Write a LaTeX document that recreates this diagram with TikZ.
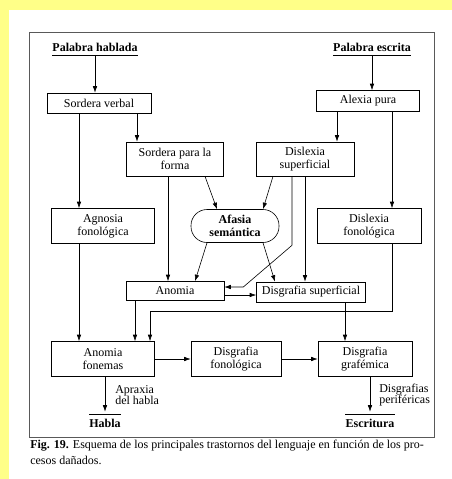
\documentclass[tikz,border=0pt]{standalone}
\usepackage{fontspec}
\setmainfont{Liberation Serif}
\usetikzlibrary{arrows.meta}

\definecolor{bgyellow}{RGB}{255,255,136}
\newcommand{\bodyfont}{\fontsize{12}{12.8}\selectfont}
\newcommand{\capfont}{\fontsize{12}{16}\selectfont}

\begin{document}
\begin{tikzpicture}[x=1pt, y=-1pt, line width=0.6pt, >={Latex[length=6.5pt,width=4.5pt]},
    box/.style={draw, align=center, inner sep=1pt, font=\bodyfont},
    title/.style={font=\bodyfont\bfseries, inner sep=0pt, text height=8pt, text depth=0pt},
    lbl/.style={align=left, inner sep=0pt, font=\fontsize{12}{11.5}\selectfont},
    arr/.style={->}]
    % Page and frame
    \fill[bgyellow] (0,0) rectangle (452,479);
    \fill[white] (9,10) rectangle (452,479);
    \useasboundingbox (0,0) rectangle (452,479);
    \draw[black!65] (29,32) rectangle (434,437);

    % Inputs and outputs
    \node[title, anchor=base] (ph) at (95,51) {Palabra hablada};
    \node[title, anchor=base] (pe) at (372,51) {Palabra escrita};
    \node[title, anchor=base] (hab) at (105,427) {Habla};
    \node[title, anchor=base] (esc) at (370,427) {Escritura};
    \draw ([yshift=-4pt]ph.south west) -- ([yshift=-4pt]ph.south east);
    \draw ([yshift=-4pt]pe.south west) -- ([yshift=-4pt]pe.south east);
    \draw ([yshift=4pt]hab.north west) -- ([yshift=4pt]hab.north east);
    \draw ([yshift=4pt]esc.north west) -- ([yshift=4pt]esc.north east);

    % Disorders
    \node[box, minimum width=104pt, minimum height=20pt] (sv) at (99,103) {Sordera verbal};
    \node[box, minimum width=103pt, minimum height=21pt] (ap) at (368,101) {Alexia pura};
    \node[box, minimum width=97pt, minimum height=34pt] (spf) at (175,159) {Sordera para la\\forma};
    \node[box, minimum width=98pt, minimum height=34pt] (ds) at (305,159) {Dislexia\\superficial};
    \node[box, minimum width=103pt, minimum height=35pt] (agf) at (103,226) {Agnosia\\fonológica};
    \node[box, rounded corners=16pt, minimum width=88pt, minimum height=33pt,
          font=\bodyfont\bfseries] (afs) at (235,226) {Afasia\\semántica};
    \node[box, minimum width=104pt, minimum height=35pt] (dfo) at (369,226) {Dislexia\\fonológica};
    \node[box, minimum width=98pt, minimum height=19pt] (ano) at (175,291) {Anomia};
    \node[box, minimum width=109pt, minimum height=20pt] (dsu) at (311,292) {Disgrafia superficial};
    \node[box, minimum width=103pt, minimum height=35pt] (anf) at (103,359) {Anomia\\fonemas};
    \node[box, minimum width=90pt, minimum height=35pt] (dgf) at (236,359) {Disgrafia\\fonológica};
    \node[box, minimum width=94pt, minimum height=35pt] (dgg) at (365,359) {Disgrafia\\grafémica};

    % Side labels
    \node[lbl, anchor=west] (apx) at (115,395) {Apraxia\\del habla};
    \node[lbl, anchor=west] (dper) at (379,395) {Disgrafias\\periféricas};

    % Drop points
    \coordinate (sv1) at ([xshift=-20pt]sv.south);
    \coordinate (sv2) at ([xshift=38pt]sv.south);
    \coordinate (ap1) at ([xshift=-31pt]ap.south);
    \coordinate (ap2) at ([xshift=24pt]ap.south);
    \coordinate (spf1) at ([xshift=-7pt]spf.south);
    \coordinate (ano1) at ([xshift=-40pt]ano.south);
    \coordinate (dsu1) at ([xshift=34pt]dsu.south);
    \coordinate (bend) at (150,311);
    \coordinate (habtop) at ([yshift=7pt]hab.north);
    \coordinate (esctop) at ([yshift=7pt]esc.north);

    % Connections
    \draw[arr] ([yshift=-5pt]ph.south) -- (ph.south |- sv.north);
    \draw[arr] ([yshift=-5pt]pe.south) -- (pe.south |- ap.north);
    \draw[arr] (sv1) -- (sv1 |- agf.north);
    \draw[arr] (sv2) -- (sv2 |- spf.north);
    \draw[arr] (ap1) -- (ap1 |- ds.north);
    \draw[arr] (ap2) -- (ap2 |- dfo.north);
    \draw[arr] (spf1) -- (spf1 |- ano.north);
    \draw[arr] ([xshift=30pt]spf.south) -- ([xshift=-18pt]afs.north);
    \draw[arr] ([xshift=-32pt]ds.south) -- ([xshift=28pt]afs.north);
    \draw[arr] ([xshift=-13pt]ds.south) -- ++(0,69) -- ([xshift=19pt,yshift=4pt]ano.east)
               -- ([yshift=4pt]ano.east);
    \draw[arr] (ds.south) -- (ds.south |- dsu.north);
    \draw[arr] ([xshift=-28pt]afs.south) -- ([xshift=20pt]ano.north);
    \draw[arr] ([xshift=28pt]afs.south) -- ([xshift=-36pt]dsu.north);
    \draw[arr] ([yshift=-4pt]ano.east) -- ([yshift=-4pt]ano.east -| dsu.west);
    \draw[arr] (sv1 |- agf.south) -- (sv1 |- anf.north);
    \draw[arr] (ano1) -- (ano1 |- anf.north);
    \draw[arr] (ap2 |- dfo.south) |- (bend) -- (bend |- anf.north);
    \draw[arr] (dsu1) -- (dsu1 |- dgg.north);
    \draw[arr] (anf.east) -- (dgf.west);
    \draw[arr] (dgf.east) -- (dgg.west);
    \draw[arr] (anf.south -| habtop) -- (habtop);
    \draw[arr] (dgg.south -| esctop) -- (esctop);

    % Caption
    \node[anchor=north west, align=left, inner sep=0pt, font=\capfont] (cap) at (30,440)
        {\textbf{Fig. 19.} Esquema de los principales trastornos del lenguaje en función de los pro-\\cesos dañados.};
\end{tikzpicture}
\end{document}
